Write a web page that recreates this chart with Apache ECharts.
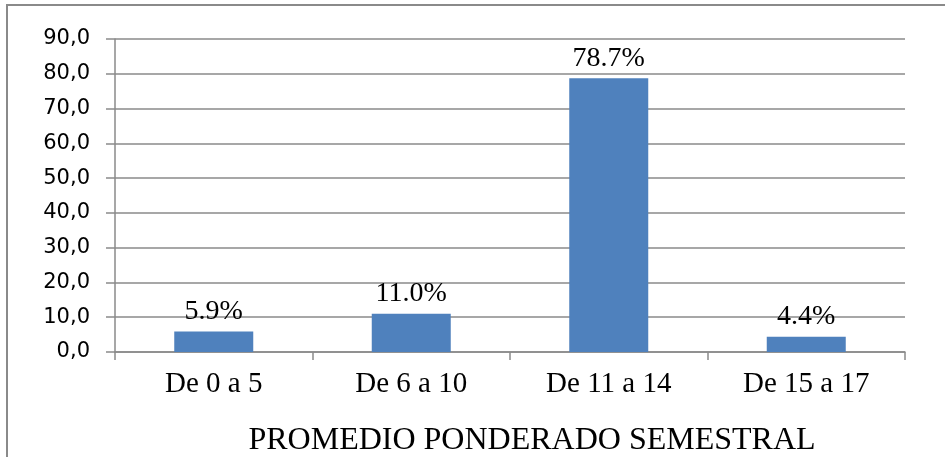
<!DOCTYPE html>
<html>
<head>
<meta charset="utf-8">
<script src="https://cdn.jsdelivr.net/npm/echarts@6/dist/echarts.min.js"></script>
<style>html,body{margin:0;padding:0;background:#fff;}#c{width:945px;height:457px;}</style>
</head>
<body>
<div id="c"></div>
<script>
const categories = ['De 0 a 5', 'De 6 a 10', 'De 11 a 14', 'De 15 a 17'];
const values = [5.9, 11.0, 78.7, 4.4];
const axisTitle = 'PROMEDIO PONDERADO SEMESTRAL';

const gray = '#8a8a8a';
const chart = echarts.init(document.getElementById('c'), null, {renderer: 'canvas'});
chart.setOption({
  animation: false,
  backgroundColor: '#fff',
  graphic: [{
    type: 'rect', silent: true, z: -1,
    shape: {x: 7, y: 5, width: 1000, height: 1000},
    style: {fill: 'none', stroke: gray, lineWidth: 2}
  }],
  title: {
    text: axisTitle,
    left: 527, top: 420, textAlign: 'center',
    textStyle: {fontFamily: 'Liberation Serif', fontSize: 32, fontWeight: 'normal', color: '#000', lineHeight: 32}
  },
  grid: {left: 115, right: 40, top: 39, bottom: 105, containLabel: false},
  xAxis: {
    type: 'category', data: categories,
    axisLine: {lineStyle: {color: gray, width: 1.5}},
    axisTick: {show: true, length: 8, interval: 0, lineStyle: {color: gray, width: 1.5}},
    axisLabel: {margin: 18, fontFamily: 'Liberation Serif', fontSize: 29, color: '#000', lineHeight: 29, interval: 0}
  },
  yAxis: {
    type: 'value', min: 0, max: 90, interval: 10,
    axisLine: {show: true, lineStyle: {color: gray, width: 1.5}},
    axisTick: {show: true, length: 9, lineStyle: {color: gray, width: 1.5}},
    splitLine: {show: true, lineStyle: {color: gray, width: 1.5}},
    axisLabel: {margin: 25, fontFamily: 'DejaVu Sans', fontSize: 21, color: '#000',
      formatter: v => v.toFixed(1).replace('.', ',')}
  },
  series: [{
    type: 'bar', data: values, barWidth: '40%',
    itemStyle: {color: '#4F81BD'},
    label: {show: true, position: 'top', distance: 6, fontFamily: 'Liberation Serif', fontSize: 28, color: '#000', lineHeight: 28,
      formatter: p => p.value.toFixed(1) + '%'}
  }]
});
</script>
</body>
</html>
